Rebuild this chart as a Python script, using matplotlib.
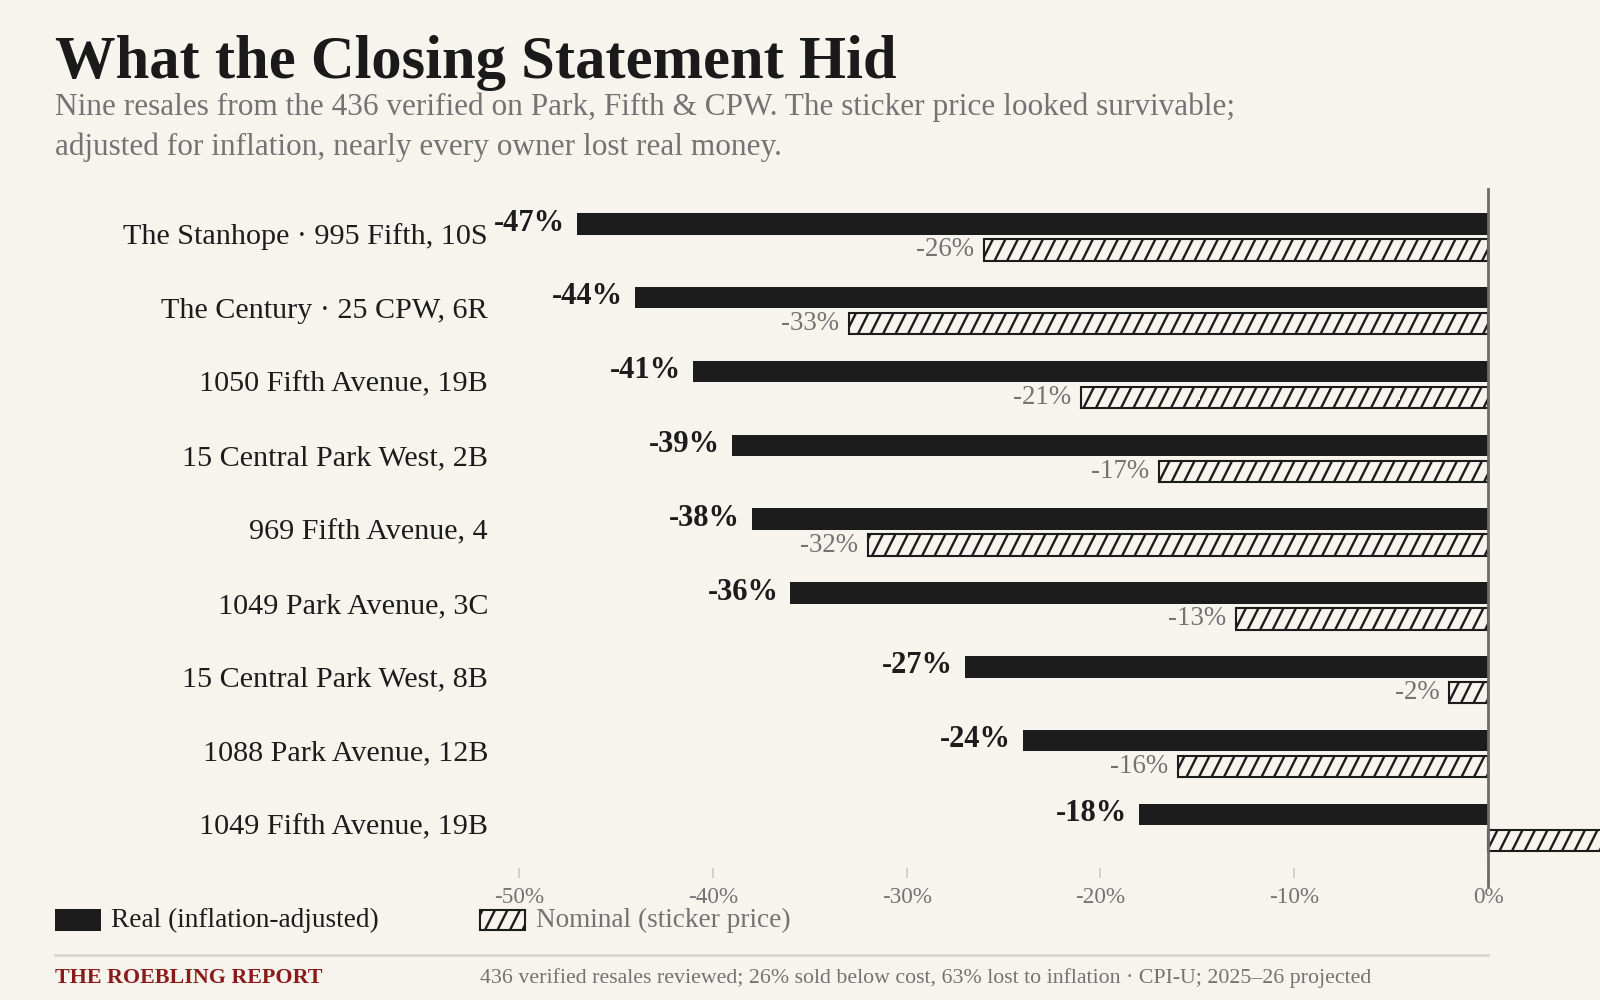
import matplotlib
matplotlib.use("Agg")
import numpy as np
import matplotlib.pyplot as plt
from matplotlib import hatch as mhatch
from matplotlib.path import Path
from matplotlib.patches import Rectangle
from matplotlib.lines import Line2D
from matplotlib.transforms import ScaledTranslation

# ---- data ----
properties = [
    "The Stanhope · 995 Fifth, 10S",
    "The Century · 25 CPW, 6R",
    "1050 Fifth Avenue, 19B",
    "15 Central Park West, 2B",
    "969 Fifth Avenue, 4",
    "1049 Park Avenue, 3C",
    "15 Central Park West, 8B",
    "1088 Park Avenue, 12B",
    "1049 Fifth Avenue, 19B",
]
real_change = [-47, -44, -41, -39, -38, -36, -27, -24, -18]
nominal_change = [-26, -33, -21, -17, -32, -13, -2, -16, 8]
x_ticks = [-50, -40, -30, -20, -10, 0]
x_tick_labels = ["-50%", "-40%", "-30%", "-20%", "-10%", "0%"]


# ---- steeper diagonal hatch (replaces the default 45° '/') ----
class SteepHatch(mhatch.HatchPatternBase):
    def __init__(self, hatch, density):
        n = hatch.count('/')
        self.num_lines = 16 * n
        if self.num_lines:
            self.x0 = np.arange(-self.num_lines // 2, self.num_lines) / self.num_lines
            self.num_vertices = 2 * len(self.x0)
        else:
            self.x0 = np.array([])
            self.num_vertices = 0

    def set_vertices_and_codes(self, vertices, codes):
        vertices[0::2, 0] = self.x0
        vertices[0::2, 1] = 0.0
        vertices[1::2, 0] = self.x0 + 0.5
        vertices[1::2, 1] = 1.0
        codes[0::2] = Path.MOVETO
        codes[1::2] = Path.LINETO


mhatch._hatch_types = [SteepHatch if t is mhatch.NorthEastHatch else t
                       for t in mhatch._hatch_types]

# ---- style ----
BG = "#f7f4ee"
DARK = "#1c1c1c"
GRAY = "#737373"
RED = "#8b1a1a"
FONT = ["Liberation Serif", "DejaVu Serif"]
plt.rcParams["font.family"] = FONT
plt.rcParams["hatch.linewidth"] = 0.85
plt.rcParams["hatch.color"] = DARK

fig = plt.figure(figsize=(8, 5), dpi=200, facecolor=BG)
ax = fig.add_axes([490 / 1600, 1 - 868 / 1000, 998 / 1600, (868 - 189) / 1000])
ax.set_facecolor(BG)

n = len(properties)
ys = list(range(n))
off = 0.176
h = 0.29

ax.barh([y - off for y in ys], real_change, height=h, color=DARK, zorder=2)
ax.barh([y + off for y in ys], nominal_change, height=h, color=BG,
        edgecolor=DARK, linewidth=0.75, hatch="/", zorder=2, clip_on=False)

for y, v in zip(ys, real_change):
    ax.annotate(f"{v}%", (v, y - off), xytext=(-4.3, 0.3), textcoords="offset points",
                ha="right", va="center", fontsize=11, fontweight="bold", color=DARK)
for y, v in zip(ys, nominal_change):
    # the gain label of the last row falls beyond the right edge in the original
    if v < 0:
        ax.annotate(f"{v}%", (v, y + off), xytext=(-3.5, 0), textcoords="offset points",
                    ha="right", va="center", fontsize=9.7, color=GRAY)

ax.set_xlim(-51.5, 0)
ax.set_ylim(8.55, -0.65)
ax.set_yticks(ys)
ax.set_yticklabels(properties, fontsize=10.85, color=DARK)
ax.tick_params(axis="y", length=0, pad=0.7)
for lbl in ax.get_yticklabels():
    lbl.set_transform(lbl.get_transform() + ScaledTranslation(0, 1.1 / 72, fig.dpi_scale_trans))
ax.set_xticks(x_ticks)
ax.set_xticklabels(x_tick_labels, fontsize=8.4, color=GRAY)
ax.tick_params(axis="x", length=3.6, width=0.6, color="#cfcac0", direction="out", pad=3.2)
for s in ax.spines.values():
    s.set_visible(False)

# zero line
ax.add_line(Line2D([0, 0], [-0.65, 8.8], color="#6b6b6b", linewidth=1.0,
                   clip_on=False, zorder=3))

# ---- titles ----
fig.text(55 / 1600, 1 - 78 / 1000, "What the Closing Statement Hid", fontsize=21.8,
         fontweight="bold", color="#1a1a1a", va="baseline", ha="left")
fig.text(55 / 1600, 1 - 115 / 1000,
         "Nine resales from the 436 verified on Park, Fifth & CPW. The sticker price looked survivable;",
         fontsize=11.25, color=GRAY, va="baseline", ha="left")
fig.text(55 / 1600, 1 - 155 / 1000,
         "adjusted for inflation, nearly every owner lost real money.",
         fontsize=11.25, color=GRAY, va="baseline", ha="left")

# ---- legend ----
leg_y = 920
fig.patches.append(Rectangle((55 / 1600, 1 - (leg_y + 11) / 1000), 46 / 1600, 22 / 1000,
                             transform=fig.transFigure, facecolor=DARK, edgecolor="none"))
fig.text(111 / 1600, 1 - leg_y / 1000, "Real (inflation-adjusted)", fontsize=9.8,
         color=DARK, va="center", ha="left")
fig.patches.append(Rectangle((480 / 1600, 1 - (leg_y + 10) / 1000), 45 / 1600, 20 / 1000,
                             transform=fig.transFigure, facecolor=BG, edgecolor=DARK,
                             linewidth=0.75, hatch="/"))
fig.text(536 / 1600, 1 - leg_y / 1000, "Nominal (sticker price)", fontsize=9.8,
         color=GRAY, va="center", ha="left")

# ---- footer ----
fig.add_artist(Line2D([55 / 1600, 1488 / 1600], [1 - 955 / 1000, 1 - 955 / 1000],
                      transform=fig.transFigure, color="#d8d4cc", linewidth=0.9))
fig.text(55 / 1600, 1 - 978 / 1000, "THE ROEBLING REPORT", fontsize=7.95,
         fontweight="bold", color=RED, va="center", ha="left")
fig.text(480 / 1600, 1 - 978 / 1000,
         "436 verified resales reviewed; 26% sold below cost, 63% lost to inflation · CPI-U; 2025–26 projected",
         fontsize=7.9, color=GRAY, va="center", ha="left")

fig.savefig("out.png", dpi=200, facecolor=BG)
